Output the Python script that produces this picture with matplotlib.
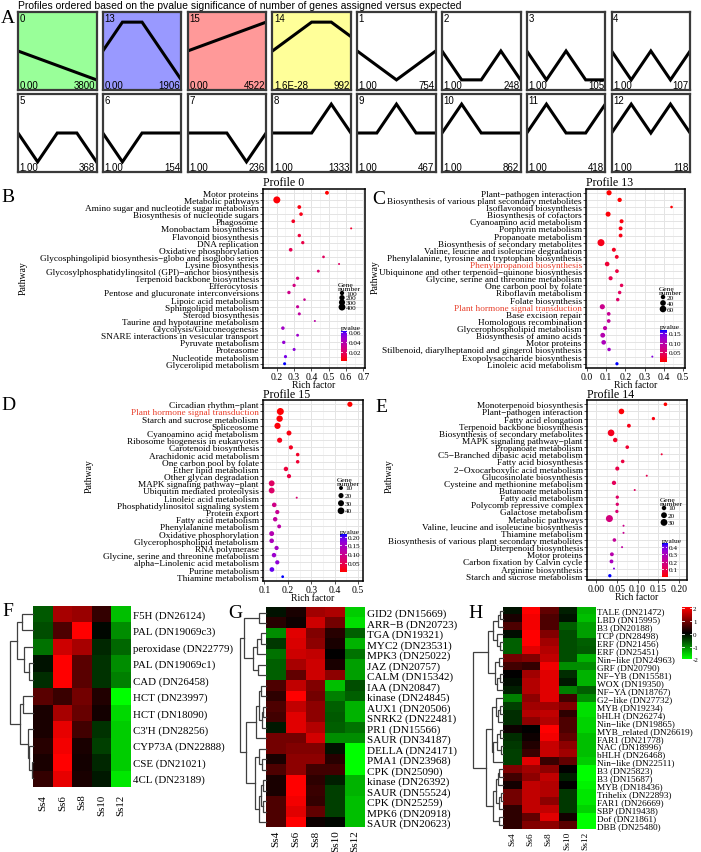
import numpy as np
import matplotlib
matplotlib.use('Agg')
import matplotlib.pyplot as plt
from matplotlib import font_manager
from matplotlib.colors import LinearSegmentedColormap, Normalize

plt.rcParams['font.family'] = ['Liberation Serif', 'DejaVu Serif']

# ---------------- panel A : STEM profiles ----------------
profile_ids = [0, 13, 15, 14, 1, 2, 3, 4, 5, 6, 7, 8, 9, 10, 11, 12]
profile_shapes = [
    [0, -1, -2, -3, -4], [0, 1, 1, 0, -1], [0, 1, 2, 3, 4], [0, 1, 2, 2, 1],
    [0, -1, -2, -1, 0], [0, -1, -1, 0, -1], [0, -1, 0, -1, -1], [0, -1, 0, -1, 0],
    [0, -1, 0, 0, -1], [0, -1, 0, 0, 0], [0, 0, 0, -1, 0], [0, 0, 0, 1, 0],
    [0, 0, 1, 0, 0], [0, 1, 0, 0, 0], [0, 1, 0, 0, 1], [0, 1, 0, 1, 0],
]
profile_pvals = ['0.00', '0.00', '0.00', '1.6E-28'] + ['1.00'] * 12
profile_counts = [3800, 1906, 4522, 992, 754, 248, 105, 107,
                  368, 154, 236, 1333, 467, 862, 418, 118]
profile_fill = ['#99FF99', '#9999FF', '#FF9999', '#FFFF99'] + ['white'] * 12

# ---------------- panels B-E : KEGG enrichment ----------------
b_names = ['Motor proteins', 'Metabolic pathways', 'Amino sugar and nucleotide sugar metabolism',
           'Biosynthesis of nucleotide sugars', 'Phagosome', 'Monobactam biosynthesis',
           'Flavonoid biosynthesis', 'DNA replication', 'Oxidative phosphorylation',
           'Glycosphingolipid biosynthesis\u2212globo and isoglobo series', 'Lysine biosynthesis',
           'Glycosylphosphatidylinositol (GPI)\u2212anchor biosynthesis', 'Terpenoid backbone biosynthesis',
           'Efferocytosis', 'Pentose and glucuronate interconversions', 'Lipoic acid metabolism',
           'Sphingolipid metabolism', 'Steroid biosynthesis', 'Taurine and hypotaurine metabolism',
           'Glycolysis/Gluconeogenesis', 'SNARE interactions in vesicular transport',
           'Pyruvate metabolism', 'Proteasome', 'Nucleotide metabolism', 'Glycerolipid metabolism']
b_rich = [0.49, 0.20, 0.33, 0.34, 0.295, 0.63, 0.33, 0.35, 0.28, 0.47, 0.56, 0.44, 0.32,
          0.30, 0.27, 0.36, 0.32, 0.33, 0.42, 0.235, 0.32, 0.24, 0.30, 0.25, 0.245]
b_genes = [70, 430, 65, 55, 60, 12, 45, 40, 60, 20, 12, 25, 40, 40, 45, 18, 35, 30, 12,
           50, 25, 45, 30, 35, 30]
b_pvals = [0.002, 0.003, 0.005, 0.006, 0.008, 0.010, 0.012, 0.014, 0.016, 0.018, 0.020, 0.022,
           0.024, 0.026, 0.028, 0.030, 0.032, 0.034, 0.036, 0.045, 0.047, 0.049, 0.051, 0.055, 0.063]

c_names = ['Plant\u2212pathogen interaction', 'Biosynthesis of various plant secondary metabolites',
           'Isoflavonoid biosynthesis', 'Biosynthesis of cofactors', 'Cyanoamino acid metabolism',
           'Porphyrin metabolism', 'Propanoate metabolism', 'Biosynthesis of secondary metabolites',
           'Valine, leucine and isoleucine degradation',
           'Phenylalanine, tyrosine and tryptophan biosynthesis', 'Phenylpropanoid biosynthesis',
           'Ubiquinone and other terpenoid\u2212quinone biosynthesis',
           'Glycine, serine and threonine metabolism', 'One carbon pool by folate',
           'Riboflavin metabolism', 'Folate biosynthesis', 'Plant hormone signal transduction',
           'Base excision repair', 'Homologous recombination', 'Glycerophospholipid metabolism',
           'Biosynthesis of amino acids', 'Motor proteins',
           'Stilbenoid, diarylheptanoid and gingerol biosynthesis', 'Exopolysaccharide biosynthesis',
           'Linoleic acid metabolism']
c_rich = [0.115, 0.17, 0.44, 0.11, 0.18, 0.175, 0.175, 0.073, 0.14, 0.155, 0.105, 0.156, 0.123,
          0.18, 0.17, 0.16, 0.08, 0.113, 0.113, 0.094, 0.082, 0.087, 0.115, 0.34, 0.156]
c_genes = [30, 18, 5, 28, 15, 14, 13, 70, 15, 13, 22, 12, 16, 10, 10, 10, 30, 12, 12, 16,
           25, 22, 10, 4, 8]
c_pvals = [0.000, 0.001, 0.002, 0.004, 0.006, 0.008, 0.010, 0.012, 0.016, 0.020, 0.025, 0.030,
           0.035, 0.040, 0.045, 0.050, 0.075, 0.080, 0.085, 0.090, 0.100, 0.110, 0.120, 0.140, 0.168]
c_red = [10, 16]

d_names = ['Circadian rhythm\u2212plant', 'Plant hormone signal transduction',
           'Starch and sucrose metabolism', 'Spliceosome', 'Cyanoamino acid metabolism',
           'Ribosome biogenesis in eukaryotes', 'Carotenoid biosynthesis',
           'Arachidonic acid metabolism', 'One carbon pool by folate', 'Ether lipid metabolism',
           'Other glycan degradation', 'MAPK signaling pathway\u2212plant',
           'Ubiquitin mediated proteolysis', 'Linoleic acid metabolism',
           'Phosphatidylinositol signaling system', 'Protein export', 'Fatty acid metabolism',
           'Phenylalanine metabolism', 'Oxidative phosphorylation', 'Glycerophospholipid metabolism',
           'RNA polymerase', 'Glycine, serine and threonine metabolism',
           'alpha\u2212Linolenic acid metabolism', 'Purine metabolism', 'Thiamine metabolism']
d_rich = [0.465, 0.168, 0.165, 0.156, 0.205, 0.165, 0.213, 0.242, 0.242, 0.192, 0.205, 0.131,
          0.131, 0.238, 0.142, 0.155, 0.146, 0.163, 0.131, 0.131, 0.152, 0.141, 0.155, 0.132, 0.178]
d_genes = [20, 45, 35, 33, 18, 20, 12, 8, 8, 14, 12, 28, 28, 4, 15, 12, 14, 10, 18, 15,
           12, 14, 12, 16, 5]
d_pvals = [0.000, 0.002, 0.004, 0.006, 0.010, 0.015, 0.020, 0.025, 0.030, 0.035, 0.040, 0.060,
           0.065, 0.070, 0.090, 0.100, 0.110, 0.120, 0.130, 0.140, 0.150, 0.160, 0.170, 0.195, 0.215]
d_red = [1]

e_names = ['Monoterpenoid biosynthesis', 'Plant\u2212pathogen interaction', 'Fatty acid elongation',
           'Terpenoid backbone biosynthesis', 'Biosynthesis of secondary metabolites',
           'MAPK signaling pathway\u2212plant', 'Propanoate metabolism',
           'C5\u2212Branched dibasic acid metabolism', 'Fatty acid biosynthesis',
           '2\u2212Oxocarboxylic acid metabolism', 'Glucosinolate biosynthesis',
           'Cysteine and methionine metabolism', 'Butanoate metabolism', 'Fatty acid metabolism',
           'Polycomb repressive complex', 'Galactose metabolism', 'Metabolic pathways',
           'Valine, leucine and isoleucine biosynthesis', 'Thiamine metabolism',
           'Biosynthesis of various plant secondary metabolites', 'Diterpenoid biosynthesis',
           'Motor proteins', 'Carbon fixation by Calvin cycle', 'Arginine biosynthesis',
           'Starch and sucrose metabolism']
e_rich = [0.167, 0.061, 0.138, 0.079, 0.036, 0.046, 0.075, 0.158, 0.064, 0.051, 0.122, 0.043,
          0.093, 0.051, 0.051, 0.050, 0.032, 0.066, 0.066, 0.044, 0.0625, 0.038, 0.037, 0.043, 0.033]
e_genes = [6, 18, 5, 7, 28, 10, 6, 3, 6, 8, 3, 9, 3, 5, 5, 5, 32, 3, 3, 6, 3, 7, 7, 3, 5]
e_pvals = [0.000, 0.010, 0.020, 0.030, 0.040, 0.050, 0.060, 0.070, 0.080, 0.090, 0.100, 0.110,
           0.120, 0.130, 0.140, 0.150, 0.170, 0.200, 0.210, 0.220, 0.240, 0.260, 0.300, 0.380, 0.450]

# ---------------- panels F-H : heatmaps ----------------
samples = ['Ss4', 'Ss6', 'Ss8', 'Ss10', 'Ss12']

f_genes = ['F5H (DN26124)', 'PAL (DN19069c3)', 'peroxidase (DN22779)', 'PAL (DN19069c1)',
           'CAD (DN26458)', 'HCT (DN23997)', 'HCT (DN18090)', "C3'H (DN28256)",
           'CYP73A (DN22888)', 'CSE (DN21021)', '4CL (DN23189)']
f_values = [[-0.7, 1.3, 1.2, 0.4, -1.5], [-0.6, 0.6, 2.0, -0.05, -1.1], [-0.9, 1.6, 1.3, -0.3, -0.8],
            [-0.15, 2.0, 0.7, -0.4, -1.1], [-0.35, 2.0, 0.7, -0.4, -1.0], [0.7, 0.45, 0.9, 0.25, -2.0],
            [0.2, 1.3, 0.8, 0.15, -1.7], [0.2, 1.8, 0.5, -0.4, -1.6], [0.3, 1.9, 0.2, -0.5, -1.6],
            [0.2, 2.0, 0.15, -0.3, -1.6], [0.4, 1.8, 0.2, -0.2, -1.8]]
f_tree = [1.0, [0.69, [0.49, 0, 1], [0.39, 2, [0.17, 3, 4]]],
          [0.56, [0.44, 5, 6], [0.21, 7, [0.17, 8, [0.07, 9, 10]]]]]

g_genes = ['GID2 (DN15669)', 'ARR\u2212B (DN20723)', 'TGA (DN19321)', 'MYC2 (DN23531)',
           'MPK3 (DN25022)', 'JAZ (DN20757)', 'CALM (DN15342)', 'IAA (DN20847)',
           'kinase (DN24845)', 'AUX1 (DN20506)', 'SNRK2 (DN22481)', 'PR1 (DN15566)',
           'SAUR (DN34187)', 'DELLA (DN24171)', 'PMA1 (DN23968)', 'CPK (DN25090)',
           'kinase (DN26392)', 'SAUR (DN55524)', 'CPK (DN25259)', 'MPK6 (DN20918)', 'SAUR (DN20623)']
g_values = [[-0.15, 0.2, 1.25, 1.35, -1.6], [0.3, 0.1, 1.6, 0.9, -1.75], [-1.1, 1.75, 1.0, 0.3, -0.75],
            [-0.45, 1.7, 1.1, 0.2, -1.4], [-0.9, 1.6, 1.5, 0.0, -0.9], [-0.75, 1.3, 1.6, 0.2, -1.25],
            [-0.75, 0.75, 1.6, 1.1, -1.25], [0.6, 1.5, 1.0, -1.5, -0.6], [0.35, 2.0, 0.9, -1.0, -0.75],
            [0.6, 1.5, 1.1, -0.75, -1.4], [0.5, 1.75, 1.1, -0.7, -1.4], [-0.2, 1.75, 1.4, -0.75, -0.9],
            [0.9, 0.9, 1.65, -1.1, -1.1], [0.9, 1.0, 1.0, -0.15, -2.0], [0.2, 1.1, 1.1, 0.3, -2.0],
            [0.6, 1.1, 0.5, 0.5, -2.0], [0.2, 2.0, 0.35, -0.25, -1.4], [0.2, 2.0, 0.45, -0.5, -1.4],
            [0.6, 1.9, 0.4, -0.5, -1.5], [0.6, 1.75, 0.75, -0.5, -1.5], [0.6, 2.0, 0.1, -0.05, -1.5]]
g_tree = [1.0,
          [0.85, [0.26, 0, 1], [0.51, [0.36, [0.2, 2, 3], 4], [0.3, 5, 6]]],
          [0.77,
           [0.4, [0.26, [0.2, 7, 8], [0.17, [0.1, 9, 10], 11]], 12],
           [0.42, [0.26, 13, [0.17, 14, 15]], [0.26, [0.2, [0.1, 16, 17], [0.13, 18, 19]], 20]]]]

h_genes = ['TALE (DN21472)', 'LBD (DN15995)', 'B3 (DN20188)', 'TCP (DN28498)', 'ERF (DN21456)',
           'ERF (DN25451)', 'Nin\u2212like (DN24963)', 'GRF (DN20790)', 'NF\u2212YB (DN15581)',
           'WOX (DN19350)', 'NF\u2212YA (DN18767)', 'G2\u2212like (DN27732)', 'MYB (DN19234)',
           'bHLH (DN26274)', 'Nin\u2212like (DN19865)', 'MYB_related (DN26619)', 'FAR1 (DN21778)',
           'NAC (DN18996)', 'bHLH (DN26468)', 'Nin\u2212like (DN22511)', 'B3 (DN25823)',
           'B3 (DN15687)', 'MYB (DN18436)', 'Trihelix (DN22893)', 'FAR1 (DN26669)',
           'SBP (DN19438)', 'Dof (DN21861)', 'DBB (DN25480)']
h_values = [[-0.15, 2.0, 0.75, -0.25, -1.4], [0.2, 1.9, 0.6, -0.15, -1.5], [0.6, 1.9, 0.6, -0.75, -1.25],
            [-0.1, 2.0, 1.0, -0.6, -1.25], [-0.75, 2.0, 1.25, -0.6, -0.75], [-0.75, 1.75, 1.4, -0.6, -0.7],
            [0.9, 1.0, 1.5, -0.6, -1.4], [0.5, 0.4, 1.9, -1.1, -1.1], [0.0, 1.25, 1.75, -0.35, -1.4],
            [-0.1, 1.4, 1.75, -0.2, -1.4], [-0.25, 1.4, 1.75, -1.0, -0.75], [-1.0, 1.1, 1.75, 0.5, -1.1],
            [-0.5, 1.25, 1.25, 1.0, -1.75], [-0.35, 1.4, 1.5, 0.35, -1.75], [-0.35, 1.1, 1.4, 0.6, -1.65],
            [0.1, 0.0, 2.0, 0.6, -1.65], [-0.35, 0.1, 1.9, 0.75, -1.5], [-0.45, 0.25, 1.55, 1.1, -1.5],
            [-0.5, 0.45, 1.55, 1.25, -1.5], [-0.5, 1.75, 0.45, 0.75, -1.6], [1.0, 1.25, 1.1, 0.0, -2.0],
            [0.5, 1.1, 1.5, -0.25, -2.0], [0.15, 1.5, 1.4, 0.0, -1.9], [0.9, 1.5, 1.4, -0.45, -1.8],
            [0.9, 1.5, 1.1, -0.45, -1.8], [0.35, 1.5, 1.5, -0.45, -1.65], [0.35, 0.75, 1.75, 0.15, -2.0],
            [0.35, 1.0, 1.1, 0.7, -2.0]]
h_tree = [1.0,
          [0.49,
           [0.32, [0.15, [0.09, 0, 1], 2], [0.18, 3, [0.09, 4, 5]]],
           [0.26, [0.11, 6, 7], [0.18, [0.09, 8, 9], 10]]],
          [0.57,
           [0.375, [0.23, 11, [0.15, [0.09, 12, 13], 14]],
            [0.32, [0.18, [0.09, 15, 16], [0.07, 17, 18]], 19]],
           [0.32, [0.23, [0.15, [0.11, 20, 21], 22], [0.11, [0.07, 23, 24], 25]], [0.11, 26, 27]]]]

# ---------------- helpers ----------------
W, H = 701, 853
fig = plt.figure(figsize=(W / 100, H / 100), dpi=100, facecolor='white')

p_cmap = LinearSegmentedColormap.from_list(
    'pv', [(0, '#FF0000'), (0.25, '#E3005B'), (0.5, '#C4009A'), (0.75, '#9B00CE'),
           (0.9, '#7000EE'), (1, '#0000FF')])
heat_cmap = LinearSegmentedColormap.from_list('gbr', ['#00FF00', '#000000', '#FF0000'])

installed = {f.name for f in font_manager.fontManager.ttflist}
if 'Liberation Sans Narrow' in installed:
    sans, box_fs, title_fs = ['Liberation Sans Narrow'], 8.0, 8.6
else:
    sans, box_fs, title_fs = ['Liberation Sans'], 7.0, 7.5


def box(x0, y0, x1, y1):
    return [x0 / W, 1 - y1 / H, (x1 - x0) / W, (y1 - y0) / H]


ov = fig.add_axes([0, 0, 1, 1])
ov.set_xlim(0, W)
ov.set_ylim(H, 0)
ov.axis('off')
ov.set_zorder(20)


def letter(x, y, s):
    ov.text(x, y, s, fontsize=14, ha='center', va='center')


# ---------------- A ----------------
bw, bh, gap = 78.5, 78, 6.3
for k, pid in enumerate(profile_ids):
    r, c = divmod(k, 8)
    x0 = 18 + c * (bw + gap)
    y0 = [13, 95][r]
    ax = fig.add_axes(box(x0, y0, x0 + bw, y0 + bh))
    ax.set_facecolor(profile_fill[k])
    v = np.array(profile_shapes[k], float)
    ax.plot(range(5), v / np.abs(v).max(), color='black', lw=2.2, solid_joinstyle='miter')
    ax.set_xlim(0, 4)
    ax.set_ylim(-1.351, 1.351)
    ax.set_xticks([])
    ax.set_yticks([])
    for s in ax.spines.values():
        s.set_linewidth(1.6)
        s.set_color('#3a3a3a')
    ax.text(0.02, 0.99, str(pid), transform=ax.transAxes, ha='left', va='top',
            fontsize=box_fs, family=sans)
    ax.text(0.02, 0.0, profile_pvals[k], transform=ax.transAxes, ha='left', va='bottom',
            fontsize=box_fs, family=sans)
    ax.text(0.985, 0.0, str(profile_counts[k]), transform=ax.transAxes, ha='right', va='bottom',
            fontsize=box_fs, family=sans)

ov.text(18, 6, 'Profiles ordered based on the pvalue significance of number of genes assigned versus expected',
        fontsize=title_fs, family=sans, ha='left', va='center')
letter(8, 18, 'A')


# ---------------- B-E ----------------
def dot_size(v, lo, hi):
    d = 2.0 + 5.0 * np.sqrt((np.asarray(v, float) - lo) / (hi - lo))
    return (d * 0.72) ** 2


def dot_panel(px, title, names, rich, genes, pvals, xlim, xticks, xfmt, red_rows,
              ylab_xy, leg, bar, bar_ticks, bar_fmt):
    ax = fig.add_axes(box(*px))
    n = len(names)
    y = np.arange(n)
    lo, hi = min(genes), max(genes)
    pnorm = Normalize(min(pvals), max(pvals))
    ax.scatter(rich, y, s=dot_size(genes, lo, hi), c=pvals, cmap=p_cmap, norm=pnorm,
               linewidths=0, zorder=3)
    ax.set_xlim(*xlim)
    ax.set_ylim(n - 0.4, -0.6)
    ax.set_yticks(y)
    ax.set_yticklabels(names, fontsize=6.7)
    for i in red_rows:
        ax.get_yticklabels()[i].set_color('#E8402C')
    ax.set_xticks(xticks)
    ax.set_xticklabels([xfmt.format(t) for t in xticks], fontsize=7)
    step = xticks[1] - xticks[0]
    minor = [t + step / 2 for t in [xticks[0] - step] + list(xticks)]
    ax.set_xticks([m for m in minor if xlim[0] < m < xlim[1]], minor=True)
    ax.grid(which='major', color='#E4E4E4', lw=0.7)
    ax.grid(which='minor', axis='x', color='#EFEFEF', lw=0.45)
    ax.set_axisbelow(True)
    ax.tick_params(which='major', length=2, width=0.6, pad=1, color='#333333')
    ax.tick_params(which='minor', length=0)
    for s in ax.spines.values():
        s.set_linewidth(1.1)
        s.set_color('black')
    ax.set_title(title, fontsize=8.6, loc='left', pad=0.6)
    ax.set_xlabel('Rich factor', fontsize=6.9, labelpad=-0.8)
    ov.text(ylab_xy[0], ylab_xy[1], 'Pathway', rotation=90, fontsize=7, ha='center', va='center')

    # gene number legend
    lx, ly, lstep, breaks = leg
    ov.text(lx - 3, ly, 'Gene\nnumber', fontsize=5.4, ha='left', va='top', linespacing=0.85)
    by = ly + 11 + lstep * np.arange(len(breaks))
    ov.scatter([lx + 1] * len(breaks), by, s=dot_size(breaks, lo, hi), color='black', linewidths=0)
    for yy, b in zip(by, breaks):
        ov.text(lx + 5, yy, str(b), fontsize=5.2, ha='left', va='center')

    # pvalue colour bar
    cax = fig.add_axes(box(*bar))
    pmin, pmax = min(pvals), max(pvals)
    grad = np.linspace(pmin, pmax, 100).reshape(-1, 1)
    cax.imshow(grad, cmap=p_cmap, norm=pnorm, aspect='auto', origin='lower',
               extent=[0, 1, pmin, pmax])
    cax.set_xlim(0, 1)
    cax.set_ylim(pmin, pmax)
    cax.set_xticks([])
    cax.yaxis.tick_right()
    cax.set_yticks(bar_ticks)
    cax.set_yticklabels([bar_fmt.format(t) for t in bar_ticks], fontsize=5.2)
    cax.tick_params(axis='y', length=0, pad=1)
    for t in bar_ticks:
        cax.plot([0, 0.22], [t, t], color='white', lw=0.6)
        cax.plot([0.78, 1], [t, t], color='white', lw=0.6)
    for s in cax.spines.values():
        s.set_visible(False)
    cax.set_title('pvalue', fontsize=5.4, loc='left', pad=1)
    cax.set_zorder(21)
    return ax


dot_panel((263, 189.5, 365, 369), 'Profile 0', b_names, b_rich, b_genes, b_pvals,
          (0.12, 0.71), [0.2, 0.3, 0.4, 0.5, 0.6, 0.7], '{:.1f}', [],
          (23, 278), (341, 283, 4.7, [100, 200, 300, 400]),
          (341, 331.7, 347, 361.7), [0.02, 0.04, 0.06], '{:.2f}')
letter(8, 197, 'B')

dot_panel((586, 189.5, 685, 369), 'Profile 13', c_names, c_rich, c_genes, c_pvals,
          (-0.005, 0.51), [0.0, 0.1, 0.2, 0.3, 0.4, 0.5], '{:.1f}', c_red,
          (375, 277), (662, 287, 6.0, [20, 40, 60]),
          (660, 330.7, 667, 362.7), [0.05, 0.10, 0.15], '{:.2f}')
letter(379, 199, 'C')

dot_panel((263, 401, 363, 582), 'Profile 15', d_names, d_rich, d_genes, d_pvals,
          (0.094, 0.521), [0.1, 0.2, 0.3, 0.4, 0.5], '{:.1f}', d_red,
          (89, 476), (340, 478, 7.6, [10, 20, 30, 40]),
          (340, 535, 346.7, 573), [0.05, 0.10, 0.15, 0.20], '{:.2f}')
letter(8, 406, 'D')

dot_panel((587, 401, 687, 581), 'Profile 14', e_names, e_rich, e_genes, e_pvals,
          (-0.022, 0.219), [0.0, 0.05, 0.10, 0.15, 0.20], '{:.2f}', [],
          (389, 476), (663, 498, 7.2, [10, 20, 30]),
          (661.7, 544, 667.3, 578), [0.1, 0.2, 0.3, 0.4], '{:.1f}')
letter(381, 408, 'E')


# ---------------- F-H ----------------
def draw_tree(ax, node):
    if isinstance(node, int):
        return node, 0.0
    h, left, right = node
    yl, hl = draw_tree(ax, left)
    yr, hr = draw_tree(ax, right)
    ax.plot([hl, h, h, hr], [yl, yl, yr, yr], color='#404040', lw=0.9,
            solid_joinstyle='miter', clip_on=False)
    return (yl + yr) / 2, h


def heat_panel(hm_px, dend_px, values, labels, tree, fs, xpad):
    ax = fig.add_axes(box(*hm_px))
    ax.imshow(np.array(values), cmap=heat_cmap, vmin=-2, vmax=2, aspect='auto',
              interpolation='nearest')
    ax.set_yticks(range(len(labels)))
    ax.set_yticklabels(labels, fontsize=fs)
    ax.yaxis.tick_right()
    ax.set_xticks(range(len(samples)))
    ax.set_xticklabels(samples, rotation=90, fontsize=fs)
    ax.tick_params(axis='y', length=0, pad=1.5)
    ax.tick_params(axis='x', length=0, pad=xpad)
    for s in ax.spines.values():
        s.set_visible(False)
    dax = fig.add_axes(box(*dend_px))
    draw_tree(dax, tree)
    dax.set_xlim(1.0, 0)
    dax.set_ylim(len(labels) - 0.5, -0.5)
    dax.axis('off')
    return ax


heat_panel((33.3, 606.7, 130.7, 787.7), (9.5, 606.7, 33.3, 787.7), f_values, f_genes, f_tree, 7.8, 5)
letter(8, 611, 'F')
heat_panel((266, 608.3, 365, 828.3), (240, 608.3, 266, 828.3), g_values, g_genes, g_tree, 8.0, 1.5)
letter(235, 614, 'G')
heat_panel((502.7, 607.7, 595, 830), (473, 607.7, 502.7, 830), h_values, h_genes, h_tree, 6.7, 1.5)
letter(476, 614, 'H')

# heatmap colour key
kax = fig.add_axes(box(681.7, 607.7, 691.7, 661.7))
key = np.linspace(-2, 2, 100).reshape(-1, 1)
kax.imshow(key, cmap=heat_cmap, vmin=-2, vmax=2, aspect='auto', origin='lower', extent=[0, 1, -2, 2])
kax.set_xlim(0, 1)
kax.set_ylim(-2.1, 2.1)
kax.set_xticks([])
kax.yaxis.tick_right()
kax.set_yticks([2, 1, 0, -1, -2])
kax.set_yticklabels(['2', '1', '0', '-1', '-2'], fontsize=5)
kax.tick_params(axis='y', length=0, pad=1)
for t in [2, 1, 0, -1, -2]:
    kax.plot([0, 0.2], [t, t], color='white', lw=0.6)
    kax.plot([0.8, 1], [t, t], color='white', lw=0.6)
for s in kax.spines.values():
    s.set_visible(False)

fig.savefig('out.png', dpi=100, facecolor='white')
